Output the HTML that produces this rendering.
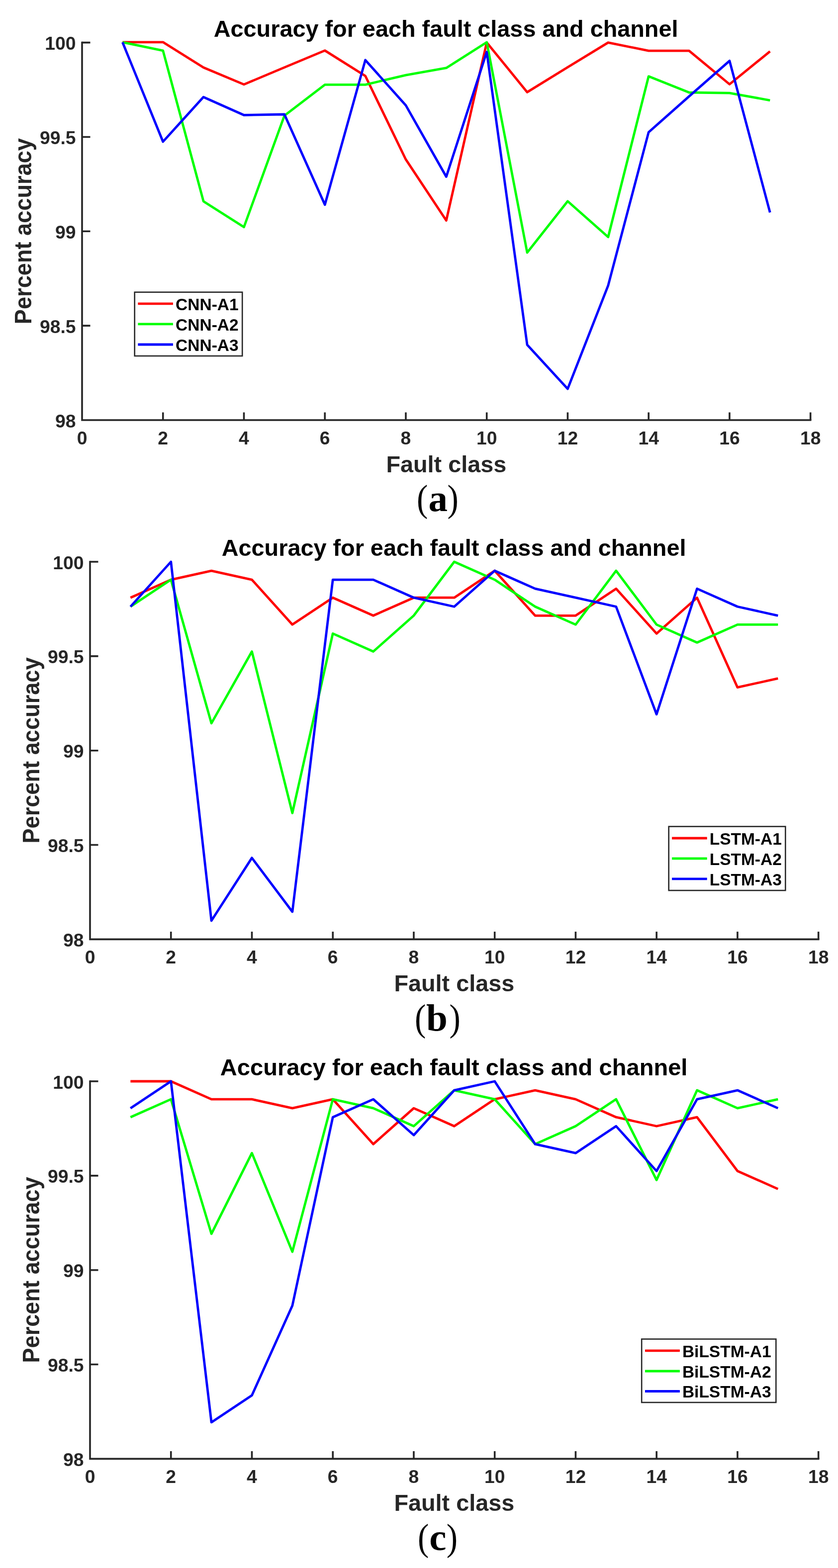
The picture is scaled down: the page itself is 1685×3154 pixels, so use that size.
<!DOCTYPE html><html><head><meta charset="utf-8"><title>Accuracy for each fault class and channel</title><style>
html,body{margin:0;padding:0;background:#fff;}body{width:1685px;height:3154px;overflow:hidden;}
svg{display:block;}
.s{font-family:"Liberation Sans",Arial,sans-serif;font-weight:bold;}
.t{font-size:37.3px;fill:#262626;}
.lab{font-size:46.8px;fill:#262626;}
.ttl{font-size:46.8px;fill:#000;}
.lg{font-size:33.5px;fill:#000;}
.cap{font-family:"Liberation Serif","Times New Roman",serif;font-size:77px;fill:#000;}
</style></head><body>
<svg width="1685" height="3154" viewBox="0 0 1685 3154">
<rect width="1685" height="3154" fill="#fff"/>
<g class="s">
<text class="ttl" x="896.63" y="73.8" text-anchor="middle">Accuracy for each fault class and channel</text>
<polyline points="246.37,84.8 327.74,84.8 409.11,135.7 490.48,169.9 571.85,135.6 653.22,101.6 734.59,152.7 815.96,320.7 897.33,443.5 978.7,85.5 1060.07,185.4 1141.44,135.2 1222.81,85.6 1304.18,102.1 1385.55,102.1 1466.92,169.5 1548.29,103.3" fill="none" stroke="#ff0000" stroke-width="4.8" stroke-linejoin="round"/>
<polyline points="246.37,85 327.74,101.8 409.11,404.9 490.48,456.8 571.85,232.7 653.22,170.3 734.59,170.3 815.96,151.1 897.33,136.7 978.7,85 1060.07,508.1 1141.44,404.8 1222.81,476.8 1304.18,153.6 1385.55,186 1466.92,187.1 1548.29,201.8" fill="none" stroke="#00ff00" stroke-width="4.8" stroke-linejoin="round"/>
<polyline points="246.37,85 327.74,285 409.11,195.2 490.48,231.5 571.85,230 653.22,411.8 734.59,120.8 815.96,211.9 897.33,355.5 978.7,104.5 1060.07,693.6 1141.44,782.2 1222.81,574.3 1304.18,266 1385.55,193.9 1466.92,122.4 1548.29,427.3" fill="none" stroke="#0000ff" stroke-width="4.8" stroke-linejoin="round"/>
<path d="M165 85.6V845H1629.66" fill="none" stroke="#262626" stroke-width="3.6" stroke-linecap="square"/>
<path d="M165 655.15h16.5M165 465.3h16.5M165 275.45h16.5M165 85.6h16.5M327.74 845v-15.5M490.48 845v-15.5M653.22 845v-15.5M815.96 845v-15.5M978.7 845v-15.5M1141.44 845v-15.5M1304.18 845v-15.5M1466.92 845v-15.5M1629.66 845v-15.5" stroke="#262626" stroke-width="3.6" fill="none"/>
<text class="t" x="152.5" y="859.5" text-anchor="end">98</text>
<text class="t" x="152.5" y="669.65" text-anchor="end">98.5</text>
<text class="t" x="152.5" y="479.8" text-anchor="end">99</text>
<text class="t" x="152.5" y="289.95" text-anchor="end">99.5</text>
<text class="t" x="152.5" y="100.1" text-anchor="end">100</text>
<text class="t" x="165" y="893.6" text-anchor="middle">0</text>
<text class="t" x="327.74" y="893.6" text-anchor="middle">2</text>
<text class="t" x="490.48" y="893.6" text-anchor="middle">4</text>
<text class="t" x="653.22" y="893.6" text-anchor="middle">6</text>
<text class="t" x="815.96" y="893.6" text-anchor="middle">8</text>
<text class="t" x="978.7" y="893.6" text-anchor="middle">10</text>
<text class="t" x="1141.44" y="893.6" text-anchor="middle">12</text>
<text class="t" x="1304.18" y="893.6" text-anchor="middle">14</text>
<text class="t" x="1466.92" y="893.6" text-anchor="middle">16</text>
<text class="t" x="1629.66" y="893.6" text-anchor="middle">18</text>
<text class="lab" x="897.33" y="950" text-anchor="middle">Fault class</text>
<text class="lab" transform="translate(62.5 465.1) rotate(-90) scale(0.93 1)" text-anchor="middle" style="font-size:48.6px">Percent accuracy</text>
<rect x="270.7" y="587.7" width="216.5" height="128.3" fill="#fff" stroke="#262626" stroke-width="2.6"/>
<line x1="277.4" y1="610.8" x2="347.9" y2="610.8" stroke="#ff0000" stroke-width="4.8"/>
<text class="lg" x="353.1" y="623.6">CNN-A1</text>
<line x1="277.4" y1="651.8" x2="347.9" y2="651.8" stroke="#00ff00" stroke-width="4.8"/>
<text class="lg" x="353.1" y="664.6">CNN-A2</text>
<line x1="277.4" y1="693" x2="347.9" y2="693" stroke="#0000ff" stroke-width="4.8"/>
<text class="lg" x="353.1" y="705.8">CNN-A3</text>
</g>
<g class="s">
<text class="ttl" x="912.63" y="1118.2" text-anchor="middle">Accuracy for each fault class and channel</text>
<polyline points="262.37,1202.2 343.74,1166.1 425.11,1148.05 506.48,1166.1 587.85,1256.35 669.22,1202.2 750.59,1238.3 831.96,1202.2 913.33,1202.2 994.7,1148.05 1076.07,1238.3 1157.44,1238.3 1238.81,1184.15 1320.18,1274.4 1401.55,1202.2 1482.92,1382.7 1564.29,1364.65" fill="none" stroke="#ff0000" stroke-width="4.8" stroke-linejoin="round"/>
<polyline points="262.37,1220.25 343.74,1166.1 425.11,1454.9 506.48,1310.5 587.85,1635.4 669.22,1274.4 750.59,1310.5 831.96,1238.3 913.33,1130 994.7,1166.1 1076.07,1220.25 1157.44,1256.35 1238.81,1148.05 1320.18,1256.35 1401.55,1292.45 1482.92,1256.35 1564.29,1256.35" fill="none" stroke="#00ff00" stroke-width="4.8" stroke-linejoin="round"/>
<polyline points="262.37,1220.25 343.74,1130 425.11,1852 506.48,1725.65 587.85,1833.95 669.22,1166.1 750.59,1166.1 831.96,1202.2 913.33,1220.25 994.7,1148.05 1076.07,1184.15 1157.44,1202.2 1238.81,1220.25 1320.18,1436.85 1401.55,1184.15 1482.92,1220.25 1564.29,1238.3" fill="none" stroke="#0000ff" stroke-width="4.8" stroke-linejoin="round"/>
<path d="M181 1130V1889.4H1645.66" fill="none" stroke="#262626" stroke-width="3.6" stroke-linecap="square"/>
<path d="M181 1699.55h16.5M181 1509.7h16.5M181 1319.85h16.5M181 1130h16.5M343.74 1889.4v-15.5M506.48 1889.4v-15.5M669.22 1889.4v-15.5M831.96 1889.4v-15.5M994.7 1889.4v-15.5M1157.44 1889.4v-15.5M1320.18 1889.4v-15.5M1482.92 1889.4v-15.5M1645.66 1889.4v-15.5" stroke="#262626" stroke-width="3.6" fill="none"/>
<text class="t" x="168.5" y="1903.9" text-anchor="end">98</text>
<text class="t" x="168.5" y="1714.05" text-anchor="end">98.5</text>
<text class="t" x="168.5" y="1524.2" text-anchor="end">99</text>
<text class="t" x="168.5" y="1334.35" text-anchor="end">99.5</text>
<text class="t" x="168.5" y="1144.5" text-anchor="end">100</text>
<text class="t" x="181" y="1938" text-anchor="middle">0</text>
<text class="t" x="343.74" y="1938" text-anchor="middle">2</text>
<text class="t" x="506.48" y="1938" text-anchor="middle">4</text>
<text class="t" x="669.22" y="1938" text-anchor="middle">6</text>
<text class="t" x="831.96" y="1938" text-anchor="middle">8</text>
<text class="t" x="994.7" y="1938" text-anchor="middle">10</text>
<text class="t" x="1157.44" y="1938" text-anchor="middle">12</text>
<text class="t" x="1320.18" y="1938" text-anchor="middle">14</text>
<text class="t" x="1482.92" y="1938" text-anchor="middle">16</text>
<text class="t" x="1645.66" y="1938" text-anchor="middle">18</text>
<text class="lab" x="913.33" y="1994.4" text-anchor="middle">Fault class</text>
<text class="lab" transform="translate(78.5 1509.5) rotate(-90) scale(0.93 1)" text-anchor="middle" style="font-size:48.6px">Percent accuracy</text>
<rect x="1344.7" y="1662.5" width="234.6" height="128.6" fill="#fff" stroke="#262626" stroke-width="2.6"/>
<line x1="1351.1" y1="1686" x2="1421.7" y2="1686" stroke="#ff0000" stroke-width="4.8"/>
<text class="lg" x="1426.7" y="1698.8">LSTM-A1</text>
<line x1="1351.1" y1="1726.9" x2="1421.7" y2="1726.9" stroke="#00ff00" stroke-width="4.8"/>
<text class="lg" x="1426.7" y="1739.7">LSTM-A2</text>
<line x1="1351.1" y1="1767.8" x2="1421.7" y2="1767.8" stroke="#0000ff" stroke-width="4.8"/>
<text class="lg" x="1426.7" y="1780.6">LSTM-A3</text>
</g>
<g class="s">
<text class="ttl" x="912.63" y="2163.2" text-anchor="middle" style="font-size:47.1px">Accuracy for each fault class and channel</text>
<polyline points="262.37,2175 343.74,2175 425.11,2211.1 506.48,2211.1 587.85,2229.15 669.22,2211.1 750.59,2301.35 831.96,2229.15 913.33,2265.25 994.7,2211.1 1076.07,2193.05 1157.44,2211.1 1238.81,2247.2 1320.18,2265.25 1401.55,2247.2 1482.92,2355.5 1564.29,2391.6" fill="none" stroke="#ff0000" stroke-width="4.8" stroke-linejoin="round"/>
<polyline points="262.37,2247.2 343.74,2211.1 425.11,2481.85 506.48,2319.4 587.85,2517.95 669.22,2211.1 750.59,2229.15 831.96,2265.25 913.33,2193.05 994.7,2211.1 1076.07,2301.35 1157.44,2265.25 1238.81,2211.1 1320.18,2373.55 1401.55,2193.05 1482.92,2229.15 1564.29,2211.1" fill="none" stroke="#00ff00" stroke-width="4.8" stroke-linejoin="round"/>
<polyline points="262.37,2229.15 343.74,2175 425.11,2860.9 506.48,2806.75 587.85,2626.25 669.22,2247.2 750.59,2211.1 831.96,2283.3 913.33,2193.05 994.7,2175 1076.07,2301.35 1157.44,2319.4 1238.81,2265.25 1320.18,2355.5 1401.55,2211.1 1482.92,2193.05 1564.29,2229.15" fill="none" stroke="#0000ff" stroke-width="4.8" stroke-linejoin="round"/>
<path d="M181 2175V2934.4H1645.66" fill="none" stroke="#262626" stroke-width="3.6" stroke-linecap="square"/>
<path d="M181 2744.55h16.5M181 2554.7h16.5M181 2364.85h16.5M181 2175h16.5M343.74 2934.4v-15.5M506.48 2934.4v-15.5M669.22 2934.4v-15.5M831.96 2934.4v-15.5M994.7 2934.4v-15.5M1157.44 2934.4v-15.5M1320.18 2934.4v-15.5M1482.92 2934.4v-15.5M1645.66 2934.4v-15.5" stroke="#262626" stroke-width="3.6" fill="none"/>
<text class="t" x="168.5" y="2948.9" text-anchor="end">98</text>
<text class="t" x="168.5" y="2759.05" text-anchor="end">98.5</text>
<text class="t" x="168.5" y="2569.2" text-anchor="end">99</text>
<text class="t" x="168.5" y="2379.35" text-anchor="end">99.5</text>
<text class="t" x="168.5" y="2189.5" text-anchor="end">100</text>
<text class="t" x="181" y="2983" text-anchor="middle">0</text>
<text class="t" x="343.74" y="2983" text-anchor="middle">2</text>
<text class="t" x="506.48" y="2983" text-anchor="middle">4</text>
<text class="t" x="669.22" y="2983" text-anchor="middle">6</text>
<text class="t" x="831.96" y="2983" text-anchor="middle">8</text>
<text class="t" x="994.7" y="2983" text-anchor="middle">10</text>
<text class="t" x="1157.44" y="2983" text-anchor="middle">12</text>
<text class="t" x="1320.18" y="2983" text-anchor="middle">14</text>
<text class="t" x="1482.92" y="2983" text-anchor="middle">16</text>
<text class="t" x="1645.66" y="2983" text-anchor="middle">18</text>
<text class="lab" x="913.33" y="3039.4" text-anchor="middle">Fault class</text>
<text class="lab" transform="translate(78.5 2554.5) rotate(-90) scale(0.93 1)" text-anchor="middle" style="font-size:48.6px">Percent accuracy</text>
<rect x="1290.2" y="2693.5" width="270.1" height="127.5" fill="#fff" stroke="#262626" stroke-width="2.6"/>
<line x1="1297" y1="2716.8" x2="1366.9" y2="2716.8" stroke="#ff0000" stroke-width="4.8"/>
<text class="lg" x="1371.9" y="2729.6">BiLSTM-A1</text>
<line x1="1297" y1="2758" x2="1366.9" y2="2758" stroke="#00ff00" stroke-width="4.8"/>
<text class="lg" x="1371.9" y="2770.8">BiLSTM-A2</text>
<line x1="1297" y1="2798.5" x2="1366.9" y2="2798.5" stroke="#0000ff" stroke-width="4.8"/>
<text class="lg" x="1371.9" y="2811.3">BiLSTM-A3</text>
</g>
<text class="cap" transform="translate(838.06 1028.2) scale(0.87 1)">(</text>
<text class="cap" x="861.52" y="1028.2" font-weight="bold">a</text>
<text class="cap" transform="translate(899.53 1028.2) scale(0.87 1)">)</text>
<text class="cap" transform="translate(834.06 2073.4) scale(0.87 1)">(</text>
<text class="cap" x="856.92" y="2073.4" font-weight="bold">b</text>
<text class="cap" transform="translate(903.53 2073.4) scale(0.87 1)">)</text>
<text class="cap" transform="translate(839.96 3118.3) scale(0.87 1)">(</text>
<text class="cap" x="863.17" y="3118.3" font-weight="bold">c</text>
<text class="cap" transform="translate(897.63 3118.3) scale(0.87 1)">)</text>
</svg></body></html>
